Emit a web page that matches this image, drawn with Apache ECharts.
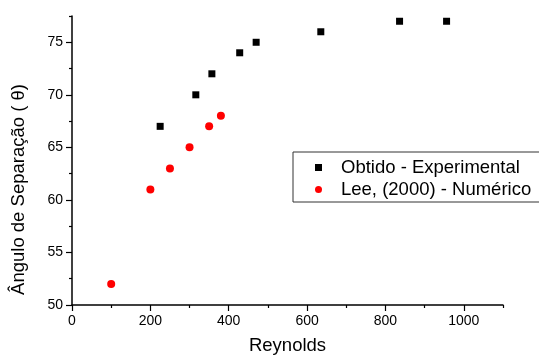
<!DOCTYPE html>
<html>
<head>
<meta charset="utf-8">
<script src="https://cdn.jsdelivr.net/npm/echarts@6/dist/echarts.min.js"></script>
<style>html,body{margin:0;padding:0;background:#fff}#c{width:539px;height:360px}</style>
</head>
<body>
<div id="c"></div>
<script>
var expNames = "Obtido - Experimental";
var numNames = "Lee, (2000) - Numérico";
var expRe = [225, 316, 357, 428, 470, 635, 836, 956];
var expAngle = [67, 70, 72, 74, 75, 76, 77, 77];
var numRe = [100, 200, 250, 300, 350, 380];
var numAngle = [52, 61, 63, 65, 67, 68];
var xMajor = [0, 200, 400, 600, 800, 1000];
var xMinor = [100, 300, 500, 700, 900, 1100];
var yMajor = [50, 55, 60, 65, 70, 75];
var yMinor = [52.5, 57.5, 62.5, 67.5, 72.5, 77.5];

var FONT = "'Liberation Sans', Arial, sans-serif";
function pairs(xs, ys){ return xs.map(function(x,i){ return [x, ys[i]]; }); }

var chart = echarts.init(document.getElementById('c'), null, {renderer:'canvas'});
var axisCommon = {
  axisLine: {show:true, lineStyle:{color:'#000', width:1.5}},
  splitLine: {show:false}
};
chart.setOption({
  backgroundColor: '#fff',
  animation: false,
  grid: {left:72, right:36, top:16, bottom:51, containLabel:false},
  xAxis: [
    Object.assign({}, axisCommon, {
      type:'value', min:0, max:1100, interval:100,
      name:'Reynolds', nameLocation:'middle', nameGap:31,
      nameTextStyle:{fontFamily:FONT, fontSize:18.5, color:'#000'},
      axisTick:{show:true, length:6, inside:false, customValues:xMajor, lineStyle:{color:'#000', width:1.2}},
      axisLabel:{show:true, customValues:xMajor, margin:9, fontFamily:FONT, fontSize:14, color:'#000',
                 formatter:function(v){ return String(v); }}
    }),
    {
      type:'value', min:0, max:1100, interval:100, position:'bottom',
      axisLine:{show:false}, splitLine:{show:false}, axisLabel:{show:false},
      axisTick:{show:true, length:3, customValues:xMinor, lineStyle:{color:'#000', width:1.2}}
    }
  ],
  yAxis: [
    Object.assign({}, axisCommon, {
      type:'value', min:50, max:77.5, interval:2.5,
      name:'Ângulo de Separação ( θ)', nameLocation:'middle', nameGap:44,
      nameTextStyle:{fontFamily:FONT, fontSize:18.5, color:'#000', padding:[0,58,0,0]},
      axisTick:{show:true, length:6, customValues:yMajor, lineStyle:{color:'#000', width:1.2}},
      axisLabel:{show:true, customValues:yMajor, margin:9, fontFamily:FONT, fontSize:14, color:'#000'}
    }),
    {
      type:'value', min:50, max:77.5, interval:2.5, position:'left',
      axisLine:{show:false}, splitLine:{show:false}, axisLabel:{show:false},
      axisTick:{show:true, length:3, customValues:yMinor, lineStyle:{color:'#000', width:1.2}}
    }
  ],
  legend: {
    orient:'vertical', left:293, top:152,
    padding:[6,24,3,22], itemGap:3,
    itemWidth:7, itemHeight:7,
    borderColor:'#333', borderWidth:1, backgroundColor:'#fff',
    textStyle:{fontFamily:FONT, fontSize:18.5, color:'#000', lineHeight:18, padding:[0,0,0,14]},
    data:[{name:expNames, icon:'rect'}, {name:numNames, icon:'circle'}]
  },
  series: [
    {name:expNames, type:'scatter', xAxisIndex:0, yAxisIndex:0, symbol:'rect', symbolSize:7,
     itemStyle:{color:'#000', opacity:1}, data:pairs(expRe, expAngle)},
    {name:numNames, type:'scatter', xAxisIndex:0, yAxisIndex:0, symbol:'circle', symbolSize:8,
     itemStyle:{color:'#ff0000', opacity:1}, data:pairs(numRe, numAngle)}
  ]
});
</script>
</body>
</html>
